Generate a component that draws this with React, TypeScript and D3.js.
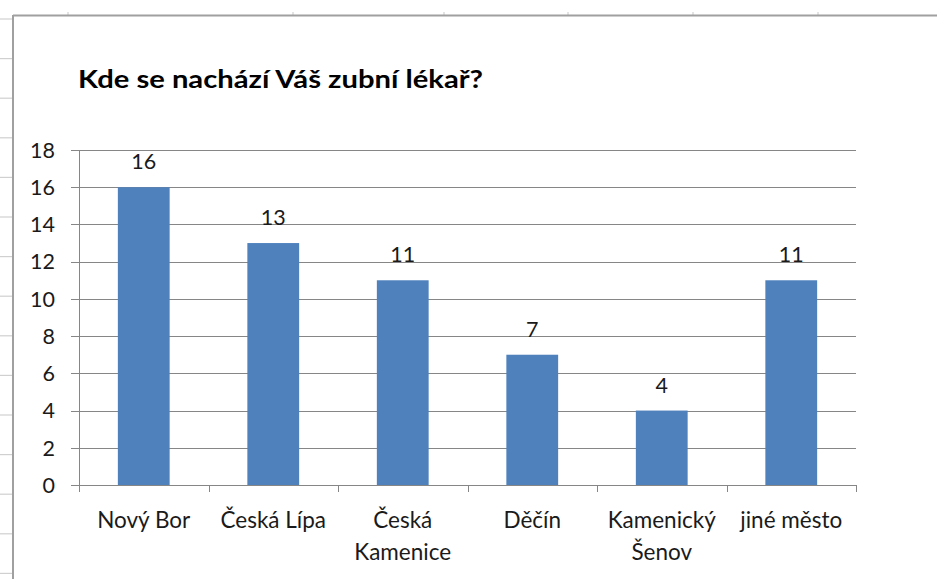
import React from "react";
import * as d3 from "d3";

const title = "Kde se nachází Váš zubní lékař?";
const categories = ["Nový Bor", "Česká Lípa", "Česká Kamenice", "Děčín", "Kamenický Šenov", "jiné město"];
const categoryLines = [["Nový Bor"], ["Česká Lípa"], ["Česká", "Kamenice"], ["Děčín"], ["Kamenický", "Šenov"], ["jiné město"]];
const values = [16, 13, 11, 7, 4, 11];
const yTicks = [0, 2, 4, 6, 8, 10, 12, 14, 16, 18];

const W = 937;
const H = 579;
const plot = { left: 79, right: 856, top: 150, bottom: 485 };
const FONT = "Lato, 'Open Sans', sans-serif";
const GRID = "#868686";
const BAR = "#4F81BD";

export default function App() {
  const x = d3
    .scaleBand<string>()
    .domain(categories)
    .range([plot.left, plot.right])
    .paddingInner(0.6)
    .paddingOuter(0.3);
  const y = d3.scaleLinear().domain([0, 18]).range([plot.bottom, plot.top]);
  const step = x.step();
  const catEdges = d3.range(categories.length + 1).map((i) => plot.left + i * step);

  // decorative spreadsheet row/column marks
  const rowMarks = d3.range(19, H, 39.6);
  const colMarks = [68, 293, 444, 568, 693, 818];

  return (
    <svg
      width={W}
      height={H}
      style={{ position: "absolute", left: 0, top: 0, background: "#fff" }}
      fontFamily={FONT}
    >
      <rect x={0} y={0} width={W} height={H} fill="#fff" />
      {rowMarks.map((r, i) => (
        <line key={"r" + i} x1={0} x2={12} y1={r} y2={r} stroke="#d0d0d0" strokeWidth={1.2} />
      ))}
      {colMarks.map((c, i) => (
        <line key={"c" + i} x1={c} x2={c} y1={12} y2={15} stroke="#d0d0d0" strokeWidth={1.2} />
      ))}
      <line x1={13} x2={W} y1={15.5} y2={15.5} stroke="#a0a0a0" strokeWidth={2} />
      <line x1={13} x2={13} y1={15} y2={H} stroke="#a0a0a0" strokeWidth={2} />

      <text
        x={78}
        y={88}
        fontSize={25}
        fontWeight="bold"
        fill="#000"
        textLength={405}
        lengthAdjust="spacingAndGlyphs"
      >
        {title}
      </text>

      {yTicks.map((t) => (
        <g key={t}>
          <line
            x1={plot.left - 8}
            x2={plot.right}
            y1={Math.round(y(t)) + 0.5}
            y2={Math.round(y(t)) + 0.5}
            stroke={GRID}
            strokeWidth={1}
          />
          <text x={55} y={y(t)} dy="0.36em" textAnchor="end" fontSize={21.5} fill="#1a1a1a">
            {t}
          </text>
        </g>
      ))}

      <line x1={plot.left + 0.5} x2={plot.left + 0.5} y1={plot.top} y2={plot.bottom + 7} stroke={GRID} strokeWidth={1} />
      {catEdges.map((e, i) => (
        <line
          key={"t" + i}
          x1={Math.round(e) + 0.5}
          x2={Math.round(e) + 0.5}
          y1={plot.bottom}
          y2={plot.bottom + 7}
          stroke={GRID}
          strokeWidth={1}
        />
      ))}

      {categories.map((c, i) => (
        <rect
          key={c}
          x={x(c)}
          y={y(values[i])}
          width={x.bandwidth()}
          height={y(0) - y(values[i])}
          fill={BAR}
        />
      ))}

      {categories.map((c, i) => (
        <text
          key={"v" + c}
          x={(x(c) as number) + x.bandwidth() / 2}
          y={y(values[i]) - 18}
          textAnchor="middle"
          fontSize={21.5}
          fill="#1a1a1a"
        >
          {values[i]}
        </text>
      ))}

      {categories.map((c, i) => (
        <text
          key={"l" + c}
          x={(x(c) as number) + x.bandwidth() / 2}
          y={528}
          textAnchor="middle"
          fontSize={22.5}
          fill="#1a1a1a"
        >
          {categoryLines[i].map((ln, j) => (
            <tspan key={j} x={(x(c) as number) + x.bandwidth() / 2} dy={j === 0 ? 0 : 32}>
              {ln}
            </tspan>
          ))}
        </text>
      ))}
    </svg>
  );
}
